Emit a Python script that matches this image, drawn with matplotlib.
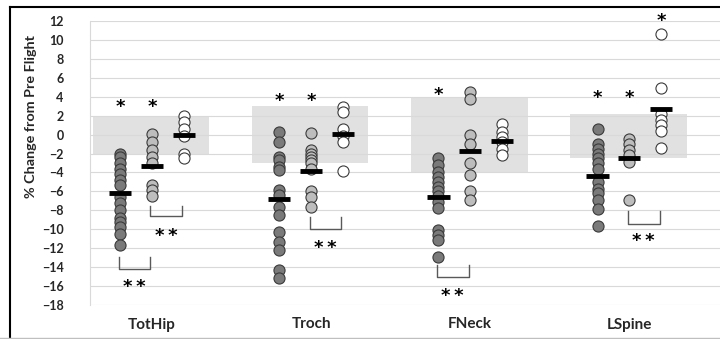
import matplotlib
matplotlib.use("Agg")
import matplotlib.pyplot as plt
from matplotlib.lines import Line2D
from matplotlib.patches import Rectangle

plt.rcParams['font.family'] = ['Lato', 'DejaVu Sans']

sites = ["TotHip", "Troch", "FNeck", "LSpine"]

# three groups per site: dark, light, white
tothip_dark = [-2.0, -2.4, -3.0, -3.6, -4.2, -4.8, -5.3, -6.6, -7.2, -8.0, -8.8, -9.2, -9.8, -10.5, -11.7]
tothip_light = [0.1, -0.8, -1.65, -2.35, -3.05, -5.3, -5.9, -6.45]
tothip_white = [2.0, 1.3, 0.6, -0.1, -2.0, -2.5]

troch_dark = [0.28, -0.77, -2.35, -2.7, -3.4, -3.75, -5.86, -6.4, -7.6, -8.5, -10.25, -11.3, -12.2, -14.3, -15.2]
troch_light = [0.18, -1.65, -2.0, -2.35, -2.7, -3.05, -3.6, -6.0, -6.6, -7.6]
troch_white = [2.9, 2.4, 0.63, -0.1, -0.77, -3.86]

fneck_dark = [-2.5, -3.2, -3.9, -4.45, -5.0, -5.5, -6.0, -6.5, -7.1, -7.8, -10.1, -10.6, -11.1, -12.9]
fneck_light = [4.5, 3.8, -0.07, -0.95, -3.05, -4.3, -6.0, -6.9]
fneck_white = [1.16, 0.28, -0.25, -0.77, -1.47, -2.18]

lspine_dark = [0.56, -0.95, -1.47, -2.0, -2.5, -3.05, -3.6, -4.98, -5.7, -6.2, -6.9, -7.86, -9.7]
lspine_light = [-0.42, -0.95, -1.65, -2.17, -2.88, -6.9]
lspine_white = [10.6, 4.9, 2.2, 1.5, 0.98, 0.35, -1.37]

mean_dark = [-6.2, -6.8, -6.6, -4.35]
mean_light = [-3.3, -3.86, -1.7, -2.46]
mean_white = [-0.07, 0.1, -0.7, 2.74]

box_hi = [2.0, 3.0, 4.0, 2.2]
box_lo = [-2.0, -3.0, -4.0, -2.45]

# single asterisks: (site, group, y)
stars = [(0, 0, 3.47), (0, 1, 3.47), (1, 0, 4.1), (1, 1, 4.1),
         (2, 0, 4.7), (3, 0, 4.4), (3, 1, 4.4), (3, 2, 12.5)]
# brackets with **: (site, from group, to group, top y, bottom y, label y)
brackets = [(0, 0, 1, -12.95, -14.2, -15.6), (0, 1, 2, -7.5, -8.6, -10.2),
            (1, 1, 2, -8.7, -10.0, -11.5), (2, 0, 1, -13.8, -15.05, -16.5),
            (3, 1, 2, -8.1, -9.4, -10.7)]

groups = [
    [tothip_dark, tothip_light, tothip_white],
    [troch_dark, troch_light, troch_white],
    [fneck_dark, fneck_light, fneck_white],
    [lspine_dark, lspine_light, lspine_white],
]
means = [mean_dark, mean_light, mean_white]
offsets = [-0.2, 0.0, 0.2]
fills = ['#7a7a7a', '#bdbdbd', 'white']

fig = plt.figure(figsize=(7.2, 3.39), dpi=100)
ax = fig.add_axes([90 / 720, 1 - 305 / 339, 630 / 720, 284 / 339])

ax.set_ylim(-18, 12)
ax.set_xlim(-0.39, 3.57)
ax.set_yticks(range(-18, 13, 2))
ax.yaxis.grid(True, color='#d9d9d9', lw=0.8, zorder=0)
ax.set_axisbelow(True)
for s in ['top', 'right', 'bottom']:
    ax.spines[s].set_visible(False)
ax.spines['left'].set_color('#d9d9d9')
ax.tick_params(axis='y', length=0, pad=19, labelsize=9, labelcolor='#262626')
ax.tick_params(axis='x', length=0, pad=9, labelsize=11, labelcolor='#262626')
for lab in ax.get_yticklabels():
    lab.set_fontweight('bold')
ax.set_xticks(range(len(sites)))
ax.set_xticklabels(sites, fontweight='bold')

for i in range(len(sites)):
    ax.add_patch(Rectangle((i - 0.37, box_lo[i]), 0.73, box_hi[i] - box_lo[i],
                           facecolor='#dadada', alpha=0.8, edgecolor='none', zorder=1))
    for g in range(3):
        vals = groups[i][g]
        x = i + offsets[g]
        ax.scatter([x] * len(vals), vals, s=64, facecolor=fills[g],
                   edgecolor='#3a3a3a', linewidth=0.8, zorder=3)
        ax.hlines(means[g][i], x - 0.07, x + 0.07, color='black', lw=3.5, zorder=4)

star_fs = 13


def star_text(x, y, s):
    # put the middle of the asterisk glyph on y
    ax.annotate(s, (x, y), xytext=(0, -0.55 * star_fs), textcoords='offset points',
                ha='center', va='baseline', fontsize=star_fs, fontweight='bold',
                family='DejaVu Sans', zorder=5, annotation_clip=False)


for i, g, y in stars:
    star_text(i + offsets[g], y, '*')

for i, a, b, top, bot, ty in brackets:
    xa = i + offsets[a] - 0.01
    xb = i + offsets[b] - 0.01
    ax.plot([xa, xa, xb, xb], [top, bot, bot, top], color='#595959', lw=1, zorder=2)
    star_text((xa + xb) / 2, ty, '*\u2009*')

fig.text(31 / 720, 1 - 117 / 339, '% Change from Pre Flight', rotation=90,
         ha='center', va='center', fontsize=10.4, fontweight='bold', color='#262626')

# outer frame of the chart
fig.add_artist(Line2D([10 / 720, 10 / 720], [0, 1 - 7 / 339], color='black', lw=1.5))
fig.add_artist(Line2D([10 / 720, 1], [1 - 7 / 339, 1 - 7 / 339], color='black', lw=1.5))
fig.add_artist(Line2D([0, 1], [1 / 339, 1 / 339], color='#bfbfbf', lw=1))

fig.savefig('out.png', dpi=100)
